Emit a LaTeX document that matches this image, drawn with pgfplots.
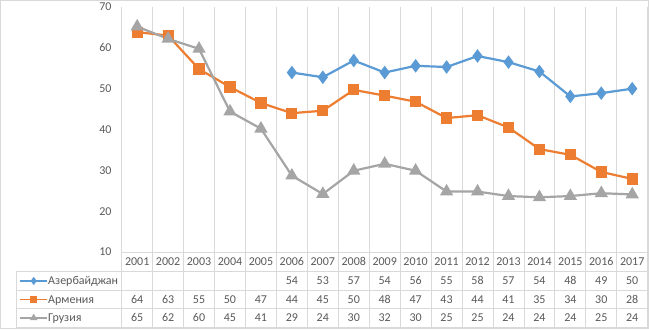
\documentclass[border=0pt]{standalone}
\usepackage{pgfplots}
\pgfplotsset{compat=1.18}
\usepackage{fontspec}
\setmainfont{Carlito}
\definecolor{txt}{HTML}{595959}
\definecolor{grd}{HTML}{D9D9D9}
\definecolor{cA}{HTML}{5B9BD5}
\definecolor{cB}{HTML}{ED7D31}
\definecolor{cC}{HTML}{A5A5A5}
\newcommand\tf{\fontsize{12bp}{14bp}\selectfont}
\begin{document}
\begin{tikzpicture}[x=1bp,y=1bp]
\useasboundingbox (0,0) rectangle (649,329);
\draw[grd] (0.5,0.5) rectangle (648.5,328.5);
% vertical grid / table column lines
\foreach \k in {0,...,17} \draw[grd, line width=0.8bp] ({121.7+\k*30.94},322) -- ({121.7+\k*30.94},2);
% table horizontal lines
\foreach \py in {271.5,290,308.5,327} \draw[grd, line width=0.8bp] (16,{329-\py}) -- (647.7,{329-\py});
\draw[grd, line width=0.8bp] (16,57.5) -- (16,2);
\draw[grd, line width=0.8bp] (121.7,77) -- (647.7,77);
\begin{axis}[
  at={(121.7bp,77bp)}, anchor=south west,
  scale only axis, width=526bp, height=245bp,
  xmin=0.5, xmax=17.5, ymin=10, ymax=70,
  ytick={10,20,...,70},
  xtick={1,...,17},
  xticklabels={2001,2002,2003,2004,2005,2006,2007,2008,2009,2010,2011,2012,2013,2014,2015,2016,2017},
  axis line style={draw=none},
  major tick length=0pt,
  clip=false,
  /pgf/number format/assume math mode=true,
  tick label style={font=\tf, text=txt},
  yticklabel style={anchor=east, inner sep=0pt, xshift=-10bp},
  xticklabel style={anchor=center, inner sep=0pt, text height=7.6bp, text depth=0pt, yshift=-10bp},
  legend style={at={(axis description cs:-0.2009,-0.0796)}, anchor=north west,
    draw=none, fill=none, inner sep=0pt, row sep=0pt, column sep=0pt,
    font=\tf, text=txt,
    nodes={inner sep=0pt, text height=13.25bp, text depth=5.25bp}},
  legend cell align=left,
  legend image code/.code={\path[draw=none, fill=none] (0bp,-9.25bp) rectangle (32bp,9.25bp);
    \draw[mark repeat=2, mark phase=2, #1, line width=1.6bp, mark size=2.8bp] plot coordinates {(4bp,0bp) (17.5bp,0bp) (31bp,0bp)};},
]
\addplot[cA, line width=2.2bp, mark=diamond*, mark size=5bp, mark options={solid, fill=cA, draw=cA}] coordinates {
(6,53.95) (7,52.8) (8,56.9) (9,53.95) (10,55.6) (11,55.3) (12,58.0) (13,56.5) (14,54.2) (15,48.1) (16,48.9) (17,50.0)};
\addlegendentry{Азербайджан}
\addplot[cB, line width=2.2bp, mark=square*, mark size=4.5bp, mark options={solid, fill=cB, draw=cB}] coordinates {
(1,63.85) (2,63.0) (3,54.8) (4,50.4) (5,46.5) (6,44.0) (7,44.6) (8,49.7) (9,48.3) (10,46.8) (11,42.8) (12,43.5) (13,40.5) (14,35.2) (15,33.8) (16,29.6) (17,27.9)};
\addlegendentry{Армения}
\addplot[cC, line width=2.2bp, mark=triangle*, mark size=5.5bp, mark options={solid, fill=cC, draw=cC}] coordinates {
(1,65.2) (2,62.2) (3,59.75) (4,44.4) (5,40.2) (6,28.7) (7,24.2) (8,29.9) (9,31.6) (10,29.9) (11,24.8) (12,24.8) (13,23.7) (14,23.4) (15,23.7) (16,24.4) (17,24.1)};
\addlegendentry{Грузия}
\end{axis}
% table values
\tikzset{tv/.style={font=\tf, text=txt, inner sep=0pt, text height=7.6bp, text depth=0pt, anchor=center}}
\foreach \v [count=\i] in {{},{},{},{},{},54,53,57,54,56,55,58,57,54,48,49,50}
  \node[tv] at ({121.7+(\i-0.5)*30.94},48) {\v};
\foreach \v [count=\i] in {64,63,55,50,47,44,45,50,48,47,43,44,41,35,34,30,28}
  \node[tv] at ({121.7+(\i-0.5)*30.94},29.75) {\v};
\foreach \v [count=\i] in {65,62,60,45,41,29,24,30,32,30,25,25,24,24,24,25,24}
  \node[tv] at ({121.7+(\i-0.5)*30.94},11.25) {\v};
\end{tikzpicture}
\end{document}
